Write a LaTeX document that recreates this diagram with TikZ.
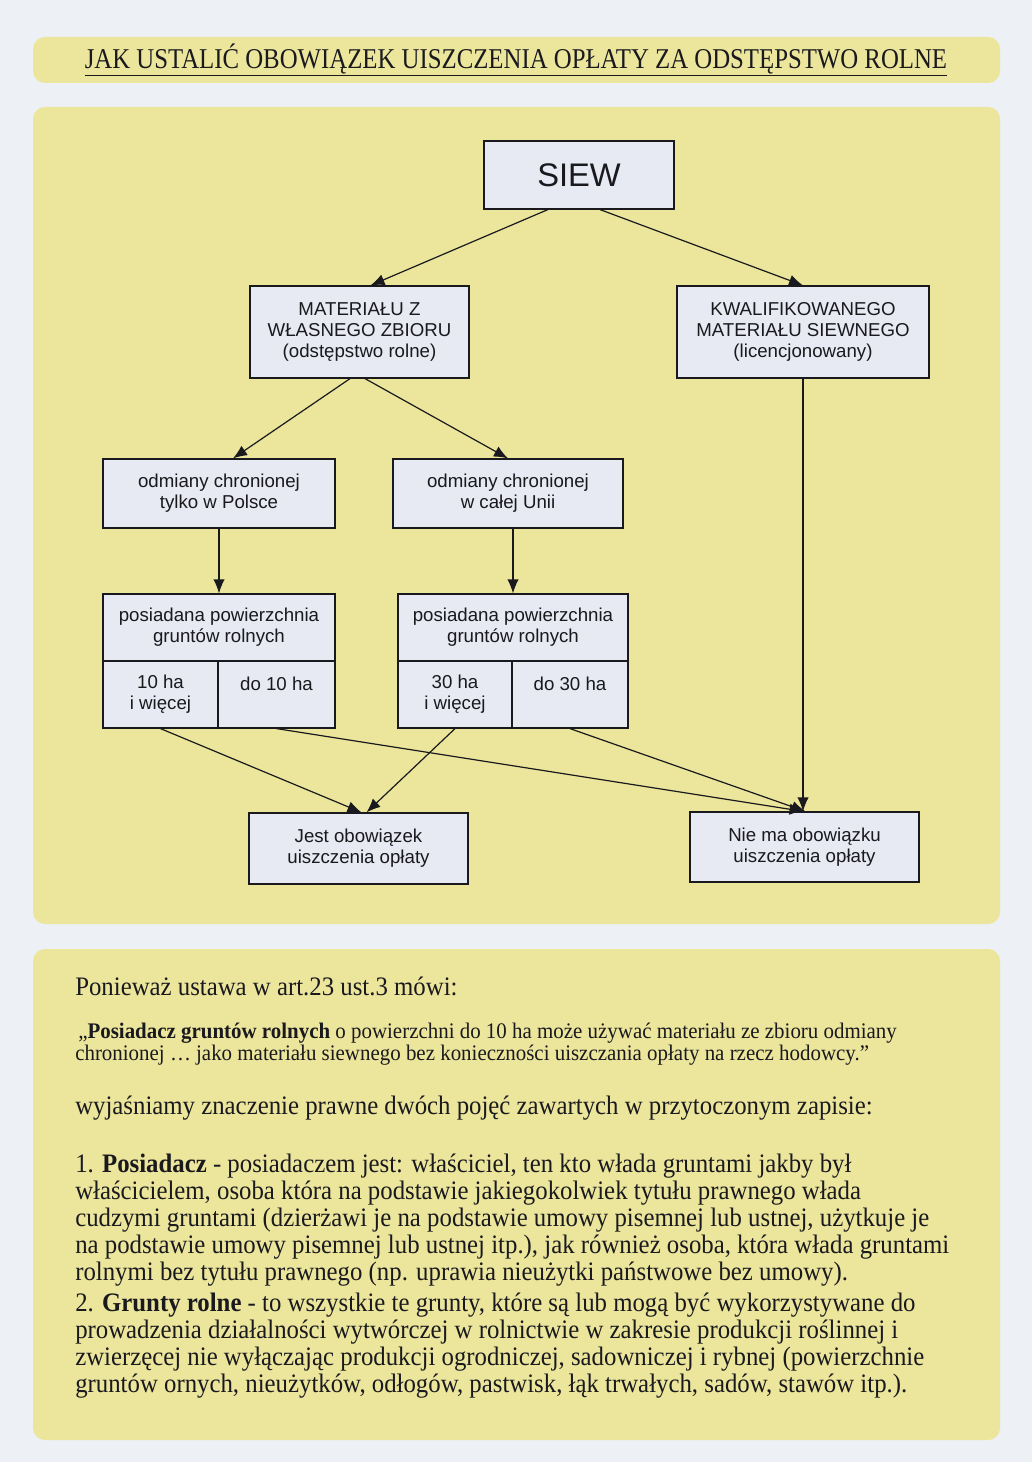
\documentclass[tikz,border=0pt]{standalone}
\usepackage{fontspec}
\setmainfont{Liberation Serif}
\setsansfont{Liberation Sans}
\newfontfamily\condser{Liberation Serif}[FakeStretch=0.93]
\newfontfamily\quoteser{Liberation Serif}[FakeStretch=0.94]
\newfontfamily\titleser{Liberation Serif}[FakeStretch=0.865]
\usetikzlibrary{arrows.meta,calc}
\definecolor{pagebg}{RGB}{237,240,244}
\definecolor{panel}{RGB}{236,229,156}
\definecolor{boxfill}{RGB}{231,233,243}
\definecolor{ink}{RGB}{25,25,30}
\tikzset{
  bx/.style n args={2}{minimum width={#1*0.75pt}, minimum height={#2*0.75pt}},
  box/.style={draw=ink, line width=0.9pt, fill=boxfill, inner sep=0pt, align=center,
    text=ink, font=\sffamily\fontsize{14}{15.75}\selectfont},
  pnl/.style={fill=panel, rounded corners=9pt},
  conn/.style={draw=ink, line width=0.9pt, -{Latex[length=10.5pt,width=8.5pt]}},
  bodyline/.style={anchor=base west, inner sep=0pt, text=ink,
    font=\condser\fontsize{20}{22}\selectfont},
  quoteline/.style={anchor=base west, inner sep=0pt, text=ink,
    font=\quoteser\fontsize{16.7}{18}\selectfont},
}
\begin{document}
\begin{tikzpicture}[x=0.75pt,y=-0.75pt]
\fill[pagebg] (0,0) rectangle (1032,1462);
\useasboundingbox (0,0) rectangle (1032,1462);
% panels
\fill[pnl] (33,37) rectangle (1000,83);
\fill[pnl] (33,107) rectangle (1000,924);
\fill[pnl] (33,949) rectangle (1000,1440);
% title
\node[inner sep=0pt, text=ink, font=\titleser\fontsize{21.5}{23}\selectfont] (title) at (516,60)
  {\underline{JAK USTALIĆ OBOWIĄZEK UISZCZENIA OPŁATY ZA ODSTĘPSTWO ROLNE}};
% boxes
\node[box, bx={190}{68}, font=\sffamily\fontsize{24.5}{26}\selectfont] (siew) at (579,175) {SIEW};
\node[box, bx={219}{92}] (mat) at (359.5,332) {MATERIAŁU Z\\WŁASNEGO ZBIORU\\(odstępstwo rolne)};
\node[box, bx={252}{92}] (kwal) at (803,332) {KWALIFIKOWANEGO\\MATERIAŁU SIEWNEGO\\(licencjonowany)};
\node[box, bx={232}{69}] (odm1) at (219,493.5) {odmiany chronionej\\tylko w Polsce};
\node[box, bx={230}{69}] (odm2) at (508,493.5) {odmiany chronionej\\w całej Unii};
\node[box, bx={232}{67}] (pos1t) at (219,627.5) {posiadana powierzchnia\\gruntów rolnych};
\node[box, bx={115}{67}] (pos1a) at (160.5,694.5) {10 ha\\i więcej};
\node[box, bx={117}{67}] (pos1b) at (276.5,694.5) {do 10 ha\\\mbox{}};
\node[box, bx={230}{67}] (pos2t) at (513,627.5) {posiadana powierzchnia\\gruntów rolnych};
\node[box, bx={114}{67}] (pos2a) at (455,694.5) {30 ha\\i więcej};
\node[box, bx={116}{67}] (pos2b) at (570,694.5) {do 30 ha\\\mbox{}};
\node[box, bx={219}{71}] (jest) at (358.5,848.5) {Jest obowiązek\\uiszczenia opłaty};
\node[box, bx={229}{70}] (nie) at (804.5,847) {Nie ma obowiązku\\uiszczenia opłaty};
% connectors
\draw[conn] ($(siew.south west)!0.337!(siew.south east)$) -- ($(mat.north west)!0.55!(mat.north east)$);
\draw[conn] ($(siew.south west)!0.61!(siew.south east)$) -- (kwal.north);
\draw[conn] ($(mat.south west)!0.457!(mat.south east)$) -- ($(odm1.north west)!0.56!(odm1.north east)$);
\draw[conn] ($(mat.south west)!0.525!(mat.south east)$) -- (odm2.north);
\draw[conn] (odm1.south) -- (pos1t.north);
\draw[conn] (pos2t.north |- odm2.south) -- (pos2t.north);
\draw[conn] (kwal.south) -- (kwal.south |- nie.north);
\draw[conn] (pos1a.south) -- ($(jest.north)+(3,0)$);
\draw[conn] (pos2a.south) -- ($(jest.north)+(8,0)$);
\draw[conn] (pos1b.south) -- ($(nie.north)+(-1,0)$);
\draw[conn] (pos2b.south) -- ($(nie.north)+(1,0)$);
% text panel
\node[bodyline] (t1) at (75,995) {Ponieważ ustawa w art.23 ust.3 mówi:};
\node[quoteline] (t2) at (78,1038) {„\textbf{Posiadacz gruntów rolnych} o powierzchni do 10 ha może używać materiału ze zbioru odmiany};
\node[quoteline] (t3) at (75,1060) {chronionej … jako materiału siewnego bez konieczności uiszczania opłaty na rzecz hodowcy.”};
\node[bodyline] (t4) at (75,1114) {wyjaśniamy znaczenie prawne dwóch pojęć zawartych w przytoczonym zapisie:};
\node[bodyline] (t5) at (75,1172) {1. \textbf{Posiadacz} - posiadaczem jest: właściciel, ten kto włada gruntami jakby był};
\node[bodyline] (t6) at (75,1199) {właścicielem, osoba która na podstawie jakiegokolwiek tytułu prawnego włada};
\node[bodyline] (t7) at (75,1226) {cudzymi gruntami (dzierżawi je na podstawie umowy pisemnej lub ustnej, użytkuje je};
\node[bodyline] (t8) at (75,1253) {na podstawie umowy pisemnej lub ustnej itp.), jak również osoba, która włada gruntami};
\node[bodyline] (t9) at (75,1280) {rolnymi bez tytułu prawnego (np. uprawia nieużytki państwowe bez umowy).};
\node[bodyline] (t10) at (75,1311) {2. \textbf{Grunty rolne} - to wszystkie te grunty, które są lub mogą być wykorzystywane do};
\node[bodyline] (t11) at (75,1338) {prowadzenia działalności wytwórczej w rolnictwie w zakresie produkcji roślinnej i};
\node[bodyline] (t12) at (75,1365) {zwierzęcej nie wyłączając produkcji ogrodniczej, sadowniczej i rybnej (powierzchnie};
\node[bodyline] (t13) at (75,1392) {gruntów ornych, nieużytków, odłogów, pastwisk, łąk trwałych, sadów, stawów itp.).};
\end{tikzpicture}
\end{document}
